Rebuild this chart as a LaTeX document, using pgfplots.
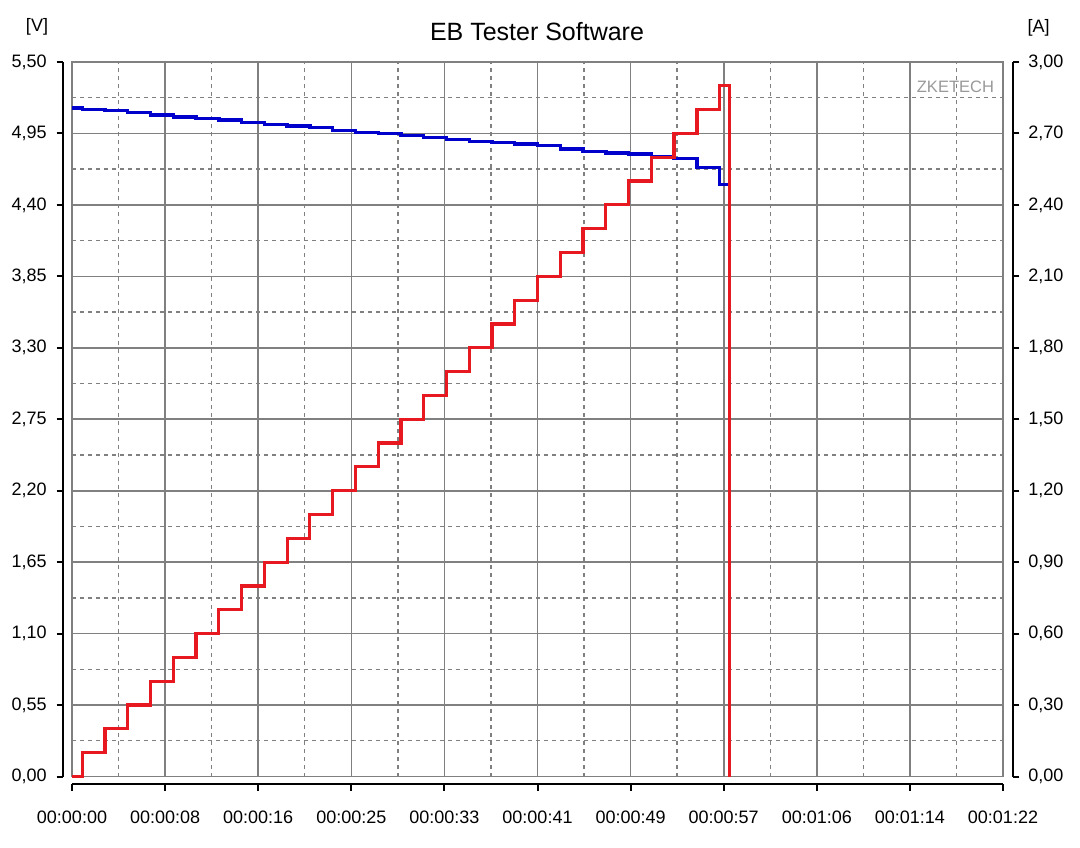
\documentclass[border=0pt]{standalone}
\usepackage{pgfplots}
\pgfplotsset{compat=1.18}
\usepackage{fontspec}
\setmainfont{Liberation Sans}
\definecolor{gridgray}{RGB}{128,128,128}
\definecolor{vblue}{RGB}{0,0,205}
\definecolor{ared}{RGB}{232,24,32}
\pgfplotsset{
  numfmt/.style={
    /pgf/number format/fixed,
    /pgf/number format/fixed zerofill,
    /pgf/number format/precision=2,
    /pgf/number format/use comma,
    /pgf/number format/assume math mode=true},
  blackaxis/.style={
    scale only axis,
    tick align=outside,
    major tick length=3.3pt,
    tick style={black, line width=1pt},
    axis line style={-, black, line width=1pt},
    tick label style={font=\fontsize{9}{10}\selectfont},
    numfmt}
}
\begin{document}
\begin{tikzpicture}
\path[use as bounding box] (0,0) rectangle (540pt,423.5pt);
% grid + voltage
\begin{axis}[
  at={(36pt,35.25pt)}, anchor=south west, scale only axis,
  width=465.5pt, height=357.25pt,
  xmin=0, xmax=82, ymin=0, ymax=5.5,
  xtick={0,8.2,16.4,24.6,32.8,41,49.2,57.4,65.6,73.8,82},
  ytick={0,0.55,1.1,1.65,2.2,2.75,3.3,3.85,4.4,4.95,5.5},
  minor x tick num=1, minor y tick num=1,
  grid=both, xticklabels={}, yticklabels={},
  tick style={draw=none},
  axis line style={gridgray, line width=0.8pt},
  major grid style={gridgray, line width=0.8pt},
  minor grid style={gridgray, line width=0.7pt, dash pattern=on 2pt off 2pt},
]
\addplot[const plot, vblue, line width=1.7pt] coordinates {
(0,5.147) (0.90,5.134) (2.91,5.126) (4.91,5.113) (6.92,5.093) (8.92,5.078)
(10.93,5.065) (12.93,5.055) (14.94,5.034) (16.94,5.021) (18.95,5.008)
(20.95,4.998) (22.96,4.972) (24.96,4.959) (26.97,4.949) (28.97,4.936)
(30.98,4.921) (32.98,4.903) (34.99,4.887) (36.99,4.880) (39.00,4.870)
(41.00,4.857) (43.01,4.831) (45.01,4.813) (47.02,4.800) (49.02,4.793)
(51.03,4.774) (53.03,4.757) (55.04,4.690) (57.04,4.556) (57.8,4.556)};
\end{axis}
% current
\begin{axis}[
  at={(36pt,35.25pt)}, anchor=south west, scale only axis,
  width=465.5pt, height=357.25pt,
  xmin=0, xmax=82, ymin=0, ymax=3, hide axis, clip=false,
]
\addplot[const plot, ared, line width=1.6pt] coordinates {
(0,0) (0.90,0.1) (2.91,0.2) (4.91,0.3) (6.92,0.4) (8.92,0.5) (10.93,0.6)
(12.93,0.7) (14.94,0.8) (16.94,0.9) (18.95,1.0) (20.95,1.1) (22.96,1.2)
(24.96,1.3) (26.97,1.4) (28.97,1.5) (30.98,1.6) (32.98,1.7) (34.99,1.8)
(36.99,1.9) (39.00,2.0) (41.00,2.1) (43.01,2.2) (45.01,2.3) (47.02,2.4)
(49.02,2.5) (51.03,2.6) (53.03,2.7) (55.04,2.8) (57.04,2.9) (57.9,0)};
\end{axis}
% left voltage axis
\begin{axis}[blackaxis,
  at={(31.65pt,35.25pt)}, anchor=south west,
  width=20pt, height=357.25pt,
  xmin=0, xmax=1, ymin=0, ymax=5.5,
  axis y line*=left, axis x line=none,
  ytick={0,0.55,1.1,1.65,2.2,2.75,3.3,3.85,4.4,4.95,5.5},
  yticklabel style={xshift=-1.5pt},
]
\addplot[draw=none] coordinates {(0,0)};
\end{axis}
% right current axis
\begin{axis}[blackaxis,
  at={(506.35pt,35.25pt)}, anchor=south east,
  width=20pt, height=357.25pt,
  xmin=0, xmax=1, ymin=0, ymax=3,
  axis y line*=right, axis x line=none,
  ytick={0,0.3,0.6,0.9,1.2,1.5,1.8,2.1,2.4,2.7,3.0},
  yticklabel style={xshift=1pt},
]
\addplot[draw=none] coordinates {(0,0)};
\end{axis}
% bottom time axis
\begin{axis}[blackaxis,
  at={(36pt,31.5pt)}, anchor=south west,
  width=465.5pt, height=10pt,
  xmin=0, xmax=82, ymin=0, ymax=1,
  axis line style={draw=none},
  xtick pos=lower, ytick=\empty, clip=false,
  xtick={0,8.2,16.4,24.6,32.8,41,49.2,57.4,65.6,73.8,82},
  xticklabels={00:00:00,00:00:08,00:00:16,00:00:25,00:00:33,00:00:41,00:00:49,00:00:57,00:01:06,00:01:14,00:01:22},
  xticklabel style={yshift=-6.5pt},
]
\addplot[draw=none] coordinates {(0,0)};
\draw[black, line width=1pt] (axis cs:0,0) -- (axis cs:82,0);
\end{axis}
\node[font=\fontsize{12.5}{14}\selectfont] at (268.5pt,407.5pt) {EB Tester Software};
\node[font=\fontsize{9}{10}\selectfont] at (18.5pt,410pt) {[V]};
\node[font=\fontsize{9}{10}\selectfont] at (519.25pt,409.75pt) {[A]};
\node[font=\fontsize{8.25}{9}\selectfont, text=gray!80] at (477.7pt,379.85pt) {ZKETECH};
\end{tikzpicture}
\end{document}
